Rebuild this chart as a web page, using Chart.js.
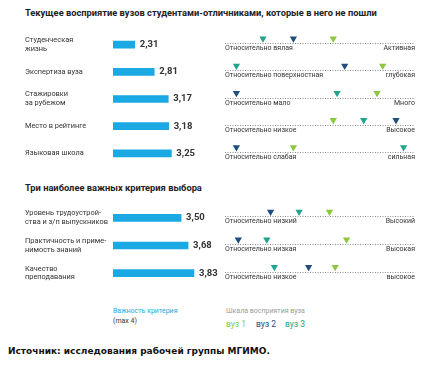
<!DOCTYPE html>
<html><head><meta charset="utf-8">
<script src="https://cdn.jsdelivr.net/npm/chart.js@4.4.1/dist/chart.umd.min.js"></script>
<style>
body{margin:0;width:431px;height:367px;background:#fff;position:relative;overflow:hidden;font-family:Roboto,sans-serif;}
.t{position:absolute;white-space:nowrap;}
canvas{position:absolute;}
</style></head><body>
<div class="t" style="left:25px;top:6.5px;font-weight:bold;font-size:9.3px;line-height:12px;color:#222">Текущее восприятие вузов студентами-отличниками, которые в него не пошли</div>
<div class="t" style="left:25px;top:181.5px;font-weight:bold;font-size:9.3px;line-height:12px;color:#222">Три наиболее важных критерия выбора</div>
<canvas id="bars1" width="195" height="136" style="left:25px;top:31.4px"></canvas>
<canvas id="marks1" width="210" height="156" style="left:215px;top:15px"></canvas>
<canvas id="bars2" width="195" height="83" style="left:25px;top:204px"></canvas>
<canvas id="marks2" width="210" height="103" style="left:215px;top:188px"></canvas>
<div class="t" style="left:113px;top:307px;font-size:7px;line-height:9px;color:#2aa6dc">Важность критерия</div>
<div class="t" style="left:113px;top:316.5px;font-size:7px;line-height:9px;color:#333">(max 4)</div>
<div class="t" style="left:226px;top:307px;font-size:7px;line-height:9px;color:#9a9a9a">Шкала восприятия вуза</div>
<div class="t" style="left:226px;top:319px;font-size:8.5px;line-height:10px;color:#8dc63f">вуз 1</div>
<div class="t" style="left:256px;top:319px;font-size:8.5px;line-height:10px;color:#1d4e7e">вуз 2</div>
<div class="t" style="left:285px;top:319px;font-size:8.5px;line-height:10px;color:#22a48c">вуз 3</div>
<div class="t" style="left:8px;top:345px;font-family:'DejaVu Sans',sans-serif;font-weight:bold;font-size:9px;line-height:12px;color:#111">Источник: исследования рабочей группы МГИМО.</div>
<script>
// ---- data ----
const criteria1 = [["Студенческая","жизнь"],"Экспертиза вуза",["Стажировки","за рубежом"],"Место в рейтинге","Языковая школа"];
const importance1 = [2.31, 2.81, 3.17, 3.18, 3.25];
const lowEnd1 = ["Относительно вялая","Относительно поверхностная","Относительно мало","Относительно низкое","Относительно слабая"];
const highEnd1 = ["Активная","глубокая","Много","Высокое","сильная"];
const vuz1Top = [5.7, 8.3, 8.0, 5.7, 3.6];
const vuz2Top = [3.6, 6.3, 0.6, 9.0, 0.6];
const vuz3Top = [2.0, 0.6, 5.9, 7.3, 9.4];

const criteria2 = [["Уровень трудоустрой-","ства и з/п выпускников"],["Практичность и приме-","нимость знаний"],["Качество","преподавания"]];
const importance2 = [3.50, 3.68, 3.83];
const lowEnd2 = ["Относительно низкий","Относительно низкая","Относительно низкое"];
const highEnd2 = ["Высокий","Высокая","высокое"];
const vuz1Bottom = [5.5, 6.4, 5.8];
const vuz2Bottom = [2.4, 0.7, 4.4];
const vuz3Bottom = [3.9, 2.2, 2.6];

const seriesNames = ["вуз 1","вуз 2","вуз 3"];

// ---- style ----
const FONT = 'Roboto, sans-serif';
const BAR = '#1aa9e2';
const COLORS = ['#8dc63f','#1d4e7e','#22a48c'];

const valueLabels = {id:'valueLabels', afterDatasetsDraw(chart){
  const ctx = chart.ctx, meta = chart.getDatasetMeta(0), d = chart.data.datasets[0].data;
  ctx.save(); ctx.font = 'bold 9.5px ' + FONT; ctx.fillStyle = '#333';
  ctx.textBaseline = 'middle'; ctx.textAlign = 'left';
  meta.data.forEach((bar,i)=>ctx.fillText(d[i].toFixed(2).replace('.',','), bar.x + 5, bar.y));
  ctx.restore();
}};

function makeBars(id, labels, values){
  new Chart(document.getElementById(id), {
    type:'bar',
    data:{labels:labels, datasets:[{data:values, backgroundColor:BAR, barThickness:7, borderWidth:0}]},
    options:{indexAxis:'y', responsive:false, animation:false, devicePixelRatio:1,
      layout:{padding:0},
      plugins:{legend:{display:false}, tooltip:{enabled:false}},
      scales:{
        x:{display:false, min:1.75, max:4.5},
        y:{grid:{display:false}, border:{display:false},
           ticks:{crossAlign:'far', padding:0, autoSkip:false, color:'#333', font:{family:FONT, size:7.4, lineHeight:1.2}},
           afterFit(s){ s.width = 88; s.paddingTop = 0; s.paddingBottom = 0; }}
      }
    },
    plugins:[valueLabels]
  });
}

const scaleGuide = {id:'scaleGuide', beforeDatasetsDraw(chart, args, opts){
  const ctx = chart.ctx, x = chart.scales.x, y = chart.scales.y;
  const x0 = x.getPixelForValue(0), x1 = x.getPixelForValue(10);
  opts.low.forEach((lo,i)=>{
    const yy = Math.round(y.getPixelForValue(i) + 4.6) + 0.5;
    ctx.save();
    ctx.strokeStyle = '#8a8a8a'; ctx.lineWidth = 1; ctx.setLineDash([1,1.5]);
    ctx.beginPath(); ctx.moveTo(x0, yy); ctx.lineTo(x1, yy); ctx.stroke();
    ctx.setLineDash([]);
    ctx.fillStyle = '#333'; ctx.font = '7px ' + FONT; ctx.textBaseline = 'middle';
    ctx.textAlign = 'left'; ctx.fillText(lo, x0, yy + 5);
    ctx.textAlign = 'right'; ctx.fillText(opts.high[i], x1, yy + 5);
    ctx.restore();
  });
}};

function makeMarks(id, low, high, series){
  new Chart(document.getElementById(id), {
    type:'scatter',
    data:{datasets: series.map((vals,k)=>({
      label: seriesNames[k],
      data: vals.map((v,i)=>({x:v, y:i})),
      pointStyle:'triangle', rotation:180, pointRadius:4.2, pointHoverRadius:4.2,
      backgroundColor: COLORS[k], borderColor: COLORS[k], pointBorderWidth:0
    }))},
    options:{responsive:false, animation:false, devicePixelRatio:1,
      layout:{padding:{left:10, right:10, top:10, bottom:10}},
      plugins:{legend:{display:false}, tooltip:{enabled:false}, scaleGuide:{low:low, high:high}},
      scales:{
        x:{type:'linear', display:false, min:0, max:10},
        y:{type:'category', labels:low, offset:true, display:false}
      }
    },
    plugins:[scaleGuide]
  });
}

makeBars('bars1', criteria1, importance1);
makeBars('bars2', criteria2, importance2);
makeMarks('marks1', lowEnd1, highEnd1, [vuz1Top, vuz2Top, vuz3Top]);
makeMarks('marks2', lowEnd2, highEnd2, [vuz1Bottom, vuz2Bottom, vuz3Bottom]);
</script>
</body></html>
